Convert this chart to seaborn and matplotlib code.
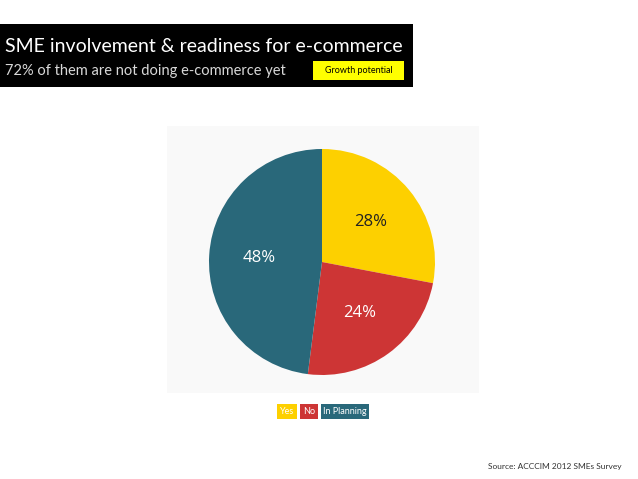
import matplotlib
matplotlib.use("Agg")
import matplotlib.pyplot as plt
import seaborn as sns
from matplotlib.patches import Rectangle

# data
categories = ["Yes", "No", "In Planning"]
shares = [28, 24, 48]
slice_colors = ["#FDD000", "#CD3535", "#29687A"]
label_colors = ["#222222", "white", "white"]

title = "SME involvement & readiness for e-commerce"
subtitle = "72% of them are not doing e-commerce yet"
tag = "Growth potential"
source = "Source: ACCCIM 2012 SMEs Survey"

sns.set_theme(style="white")
plt.rcParams['font.family'] = ['Lato', 'DejaVu Sans']

W, H = 638, 479
fig = plt.figure(figsize=(W / 100, H / 100), dpi=100)
fig.patch.set_facecolor("white")


def px(x, y):
    """pixel coords (top-left origin) -> figure fraction"""
    return x / W, 1 - y / H


def box(x0, y0, x1, y1, color):
    fx, fy = px(x0, y1)
    fig.patches.append(Rectangle((fx, fy), (x1 - x0) / W, (y1 - y0) / H,
                                 transform=fig.transFigure, facecolor=color,
                                 edgecolor="none", zorder=-1))


# header block
box(0, 24, 413, 87, "black")
fig.text(*px(5, 46), title, color="white", fontsize=14, va="center", ha="left")
fig.text(*px(5, 71), subtitle, color="#d8d8d8", fontsize=10.5, va="center", ha="left")
box(313, 61, 404, 80, "#FFFF00")
fig.text(*px(358.5, 70.5), tag, color="black", fontsize=6.5, va="center", ha="center")

# light panel behind the chart
box(167, 126, 479, 393, "#F9F9F9")

# pie
cx, cy, r = 322, 262, 113
ax = fig.add_axes([(cx - r) / W, 1 - (cy + r) / H, 2 * r / W, 2 * r / H])
ax.set_zorder(2)
ax.patch.set_visible(False)
wedges, _, autotexts = ax.pie(shares, colors=slice_colors, startangle=90, counterclock=False,
                              radius=1, autopct="%d%%", pctdistance=0.56,
                              wedgeprops=dict(linewidth=0),
                              textprops=dict(fontsize=12, family=['Open Sans', 'DejaVu Sans']))
for t, c in zip(autotexts, label_colors):
    t.set_color(c)
ax.set_xlim(-1, 1)
ax.set_ylim(-1, 1)
ax.set_aspect("equal")
ax.axis("off")

# legend as coloured tags
legend_boxes = [(277, 297), (300, 318), (321, 369)]
for (x0, x1), name, col in zip(legend_boxes, categories, slice_colors):
    box(x0, 404, x1, 419, col)
    fig.text(*px((x0 + x1) / 2, 411.5), name, color="white", fontsize=6.5,
             va="center", ha="center")

fig.text(*px(622, 467), source, color="#333333", fontsize=6, va="center", ha="right")

fig.savefig("out.png", dpi=100)
